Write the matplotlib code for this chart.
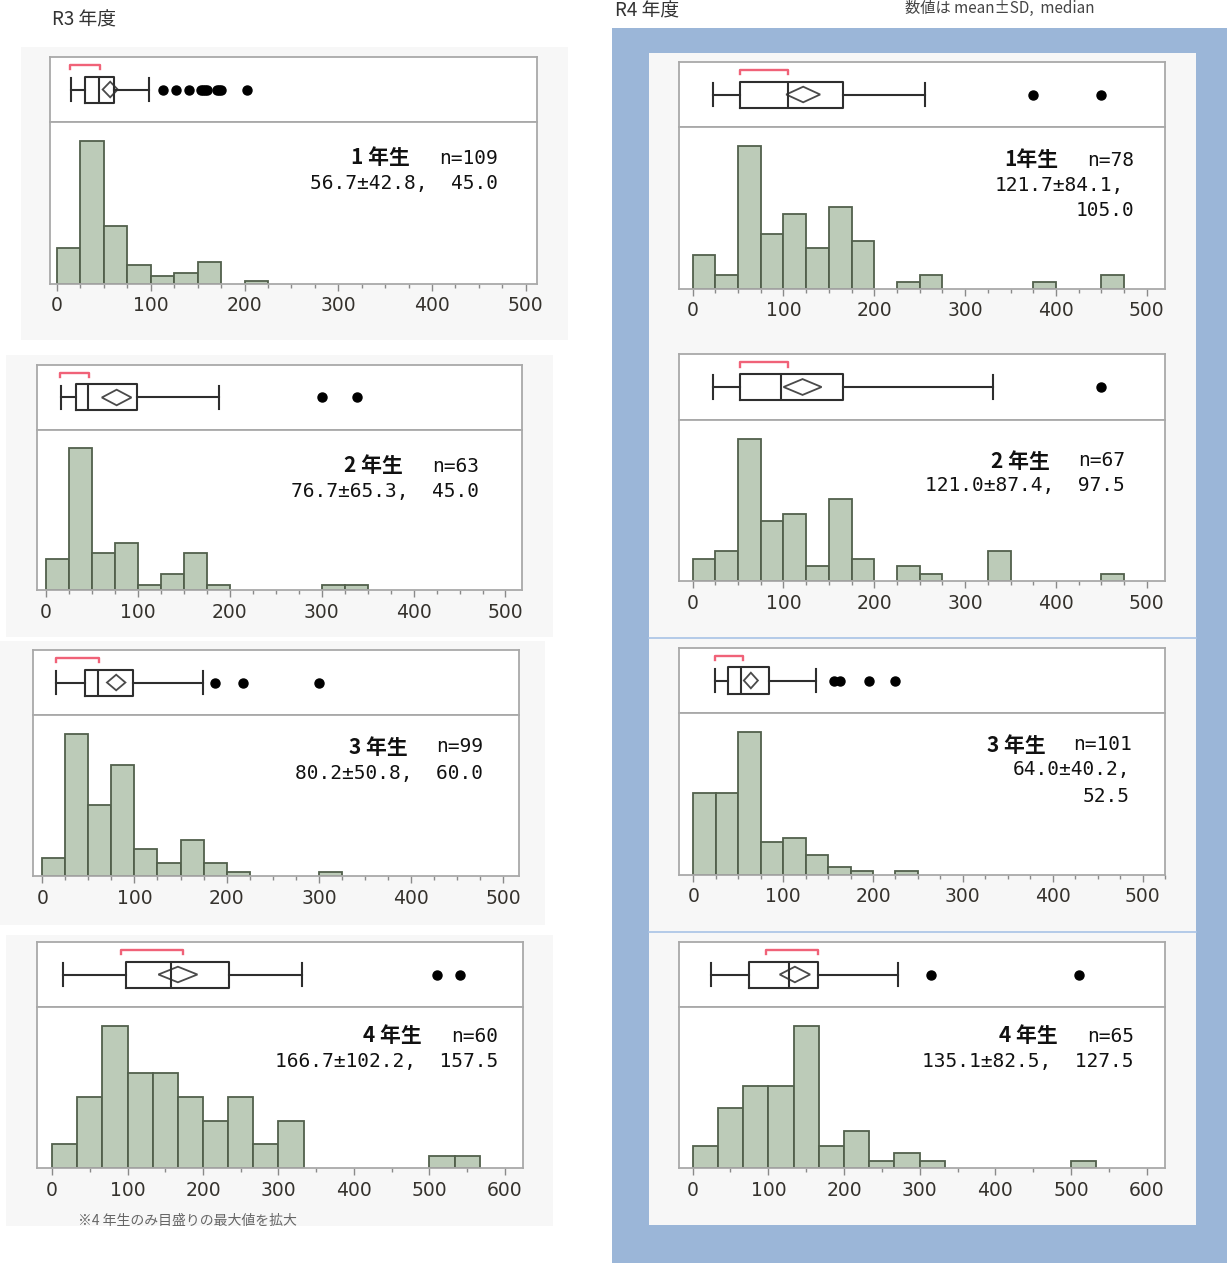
import matplotlib.pyplot as plt
from matplotlib.patches import Rectangle
from matplotlib.ticker import MultipleLocator
import numpy as np

plt.rcParams['font.family'] = ['Noto Sans CJK JP', 'DejaVu Sans']

# ---- data -------------------------------------------------------------
grade_names = ["1 年生", "2 年生", "3 年生", "4 年生"]
grade_names_r4 = ["1年生", "2 年生", "3 年生", "4 年生"]

# histogram counts (grades 1-3: 25-wide bins from 0, grade 4: 100/3-wide bins)
r3_counts = [
    [13, 52, 21, 7, 3, 4, 8, 0, 1],
    [6, 27, 7, 9, 1, 3, 7, 1, 0, 0, 0, 0, 1, 1],
    [4, 32, 16, 25, 6, 3, 8, 3, 1, 0, 0, 0, 1],
    [2, 6, 12, 8, 8, 6, 4, 6, 2, 4, 0, 0, 0, 0, 0, 1, 1],
]
r4_counts = [
    [5, 2, 21, 8, 11, 6, 12, 7, 0, 1, 2, 0, 0, 0, 0, 1, 0, 0, 2],
    [3, 4, 19, 8, 9, 2, 11, 3, 0, 2, 1, 0, 0, 4, 0, 0, 0, 0, 1],
    [20, 20, 35, 8, 9, 5, 2, 1, 0, 1],
    [3, 8, 11, 11, 19, 3, 5, 1, 2, 1, 0, 0, 0, 0, 0, 1],
]
bin_widths = [25, 25, 25, 100 / 3]

# summary statistics
r3_n = [109, 63, 99, 60]
r3_mean = [56.7, 76.7, 80.2, 166.7]
r3_sd = [42.8, 65.3, 50.8, 102.2]
r3_median = [45.0, 45.0, 60.0, 157.5]
r3_q1 = [30, 32, 46, 98]
r3_q3 = [61, 99, 98, 234]
r3_whislo = [15, 16, 15, 15]
r3_whishi = [98, 188, 174, 331]
r3_fliers = [
    [113, 127, 141, 154, 156, 158, 160, 171, 173, 175, 203],
    [300, 338],
    [187, 218, 300],
    [510, 541],
]
r3_shorth = [(14, 46), (15, 47), (15, 62), (91, 173)]

r4_n = [78, 67, 101, 65]
r4_mean = [121.7, 121.0, 64.0, 135.1]
r4_sd = [84.1, 87.4, 40.2, 82.5]
r4_median = [105.0, 97.5, 52.5, 127.5]
r4_q1 = [52, 52, 38, 74]
r4_q3 = [165, 165, 84, 166]
r4_whislo = [22, 22, 24, 24]
r4_whishi = [256, 331, 136, 271]
r4_fliers = [
    [375, 450],
    [450],
    [156, 163, 195, 225],
    [315, 510],
]
r4_shorth = [(52, 105), (52, 105), (24, 55), (97, 166)]

# ---- styling ----------------------------------------------------------
W, H = 1227, 1263
BAR = "#bccbb8"
BAR_EDGE = "#52604c"
FRAME = "#a9a9a9"
LINE = "#2e2e2e"
TICK_C = "#35322d"
RED = "#f06278"
PANEL_BG = "#f7f7f7"
BLUE = "#9bb6d8"
NUM_FONT = ["DejaVu Sans Mono"]

fig = plt.figure(figsize=(W / 100, H / 100), dpi=100)
fig.patch.set_facecolor("white")


def fx(x):
    return x / W


def fy(y):
    return 1 - y / H


def bg_rect(x0, y0, x1, y1, color):
    fig.patches.append(Rectangle((fx(x0), fy(y1)), (x1 - x0) / W, (y1 - y0) / H,
                                 transform=fig.transFigure, facecolor=color,
                                 edgecolor="none", zorder=-5))


# backgrounds
bg_rect(21, 47, 568, 340, PANEL_BG)
bg_rect(6, 355, 553, 637, PANEL_BG)
bg_rect(0, 641, 545, 925, PANEL_BG)
bg_rect(6, 935, 553, 1226, PANEL_BG)
bg_rect(612, 28, 1227, 1263, BLUE)
bg_rect(649, 53, 1196, 1225, PANEL_BG)
for ysep in (638, 932):
    fig.add_artist(plt.Line2D([fx(649), fx(1196)], [fy(ysep), fy(ysep)],
                              transform=fig.transFigure, color="#a8c3e6",
                              lw=1.2, zorder=-4))


def draw_panel(frame, xlim, xmax, minor, counts, bw, st, shorth, mean, sd, n):
    left, right, top, div, bot = frame
    ax_b = fig.add_axes([fx(left), fy(div), (right - left) / W, (div - top) / H])
    ax_h = fig.add_axes([fx(left), fy(bot), (right - left) / W, (bot - div) / H])

    # histogram
    counts = np.asarray(counts)
    lefts = np.arange(len(counts)) * bw
    keep = counts > 0
    ax_h.bar(lefts[keep], counts[keep], width=bw, align="edge",
             color=BAR, edgecolor=BAR_EDGE, linewidth=1.3, zorder=2)
    ax_h.set_ylim(0, counts.max() * 1.13)
    ax_h.set_xlim(*xlim)
    ax_h.set_yticks([])
    ax_h.xaxis.set_minor_locator(MultipleLocator(minor))
    ax_h.set_xticks(np.arange(0, xmax + 1, 100))
    ax_h.tick_params(axis="x", which="major", length=5, width=1, color="#8a8a8a",
                     labelsize=13.5, labelcolor=TICK_C, pad=4)
    ax_h.tick_params(axis="x", which="minor", length=3, width=1, color="#8a8a8a")
    for lab in ax_h.get_xticklabels():
        lab.set_family("DejaVu Sans")

    # box plot with mean diamond and shortest-half bracket
    ax_b.set_xlim(*xlim)
    ax_b.set_ylim(0, 1)
    lp = dict(color=LINE, linewidth=1.5)
    ax_b.bxp([st], positions=[0.5], widths=0.4, capwidths=0.36,
             orientation="horizontal", showfliers=True, manage_ticks=False,
             boxprops=lp, whiskerprops=lp, capprops=lp, medianprops=lp,
             flierprops=dict(marker="o", markerfacecolor="black",
                             markeredgecolor="black", markersize=6.5))
    ax_b.set_xticks([])
    ax_b.set_yticks([])
    ci = 1.96 * sd / np.sqrt(n)
    ax_b.fill([mean - ci, mean, mean + ci, mean], [0.5, 0.62, 0.5, 0.38],
              facecolor="none", edgecolor="#4a4a4a", linewidth=1.3)
    lo, hi = shorth
    ax_b.plot([lo, lo, hi, hi], [0.81, 0.88, 0.88, 0.81], color=RED, lw=1.7)

    for ax in (ax_b, ax_h):
        ax.set_facecolor("white")
        for s in ax.spines.values():
            s.set_color(FRAME)
            s.set_linewidth(1.3)


def label(grade, n, lines, grade_right, n_right, y1, rights, ys):
    fig.text(fx(grade_right), fy(y1), grade, ha="right", va="center",
             fontsize=15, fontweight="bold", color="#111111")
    fig.text(fx(n_right), fy(y1), f"n={n}", ha="right", va="center",
             fontsize=14, color="#111111", family=NUM_FONT)
    for txt, xr, y in zip(lines, rights, ys):
        fig.text(fx(xr), fy(y), txt, ha="right", va="center",
                 fontsize=14, color="#111111", family=NUM_FONT)


def make_stats(i, q1, med, q3, lo, hi, fl):
    return dict(whislo=lo[i], q1=q1[i], med=med[i], q3=q3[i], whishi=hi[i],
                fliers=fl[i])


# panel frames: left, right, top, divider, bottom (pixels)
r3_frames = [(50, 537, 57, 122, 284), (37, 522, 365, 430, 590),
             (33, 519, 650, 715, 876), (37, 523, 942, 1007, 1168)]
r3_xlims = [(-7.5, 512), (-10, 518), (-10, 517), (-20, 624)]
r4_frames = [(679, 1165, 62, 127, 289), (679, 1165, 354, 420, 581),
             (679, 1165, 648, 713, 875), (679, 1165, 942, 1007, 1168)]
r4_xlims = [(-15, 520), (-15, 520), (-16, 525), (-18, 624)]

for i in range(4):
    xmax = 600 if i == 3 else 500
    minor = 50 if i == 3 else 25
    draw_panel(r3_frames[i], r3_xlims[i], xmax, minor, r3_counts[i], bin_widths[i],
               make_stats(i, r3_q1, r3_median, r3_q3, r3_whislo, r3_whishi, r3_fliers),
               r3_shorth[i], r3_mean[i], r3_sd[i], r3_n[i])
    draw_panel(r4_frames[i], r4_xlims[i], xmax, minor, r4_counts[i], bin_widths[i],
               make_stats(i, r4_q1, r4_median, r4_q3, r4_whislo, r4_whishi, r4_fliers),
               r4_shorth[i], r4_mean[i], r4_sd[i], r4_n[i])

# R3 annotations
r3_pos = [(410, 498, 158, 184), (403, 479, 466, 492),
          (408, 483, 747, 773), (422, 498, 1036, 1061)]
for i, (gr, nr, y1, y2) in enumerate(r3_pos):
    line = f"{r3_mean[i]:.1f}±{r3_sd[i]:.1f},  {r3_median[i]:.1f}"
    label(grade_names[i], r3_n[i], [line], gr, nr, y1, [nr], [y2])

# R4 annotations (grades 1 and 3 wrap the median onto a third line)
label(grade_names_r4[0], r4_n[0],
      [f"{r4_mean[0]:.1f}±{r4_sd[0]:.1f},", f"{r4_median[0]:.1f}"],
      1058, 1134, 160, [1124, 1134], [185, 211])
label(grade_names_r4[1], r4_n[1],
      [f"{r4_mean[1]:.1f}±{r4_sd[1]:.1f},  {r4_median[1]:.1f}"],
      1050, 1125, 461, [1125], [486])
label(grade_names_r4[2], r4_n[2],
      [f"{r4_mean[2]:.1f}±{r4_sd[2]:.1f},", f"{r4_median[2]:.1f}"],
      1046, 1132, 745, [1130, 1130], [770, 796])
label(grade_names_r4[3], r4_n[3],
      [f"{r4_mean[3]:.1f}±{r4_sd[3]:.1f},  {r4_median[3]:.1f}"],
      1058, 1134, 1036, [1134], [1061])

# headings and notes
fig.text(fx(52), fy(20), "R3 年度", ha="left", va="center", fontsize=13.5,
         color="#333333")
fig.text(fx(615), fy(11), "R4 年度", ha="left", va="center", fontsize=13.5,
         color="#333333")
fig.text(fx(905), fy(8), "数値は mean±SD,  median", ha="left", va="center",
         fontsize=11, color="#444444")
fig.text(fx(78), fy(1221), "※4 年生のみ目盛りの最大値を拡大", ha="left",
         va="center", fontsize=10, color="#666666")

fig.savefig("out.png", dpi=100)
